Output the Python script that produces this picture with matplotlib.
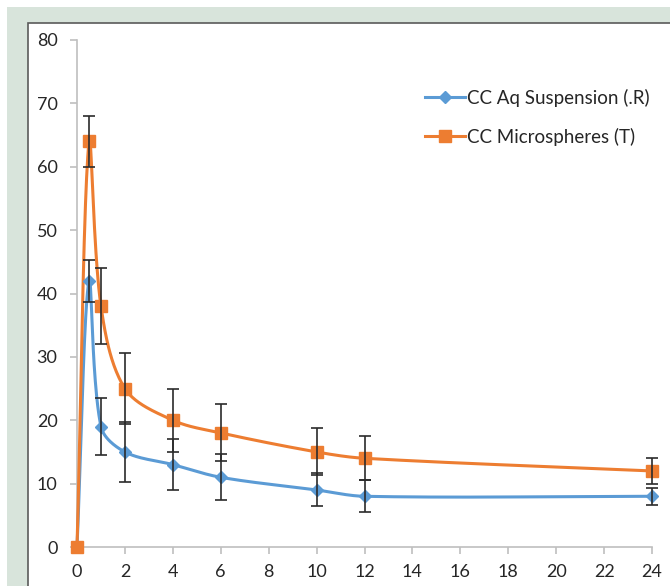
import numpy as np
import matplotlib
matplotlib.use("Agg")
import matplotlib.pyplot as plt
from matplotlib.patches import Rectangle

plt.rcParams['font.family'] = ['Lato', 'DejaVu Sans']

# time points (h) and mean values with SD
hours = [0, 0.5, 1, 2, 4, 6, 10, 12, 24]
aq_mean = [0, 42, 19, 15, 13, 11, 9, 8, 8]
aq_sd = [0, 3.3, 4.5, 4.8, 4.0, 3.6, 2.6, 2.5, 1.3]
ms_mean = [0, 64, 38, 25, 20, 18, 15, 14, 12]
ms_sd = [0, 4.0, 6.0, 5.6, 5.0, 4.5, 3.7, 3.5, 2.0]

labels = ["CC Aq Suspension (.R)", "CC Microspheres (T)"]
blue = "#5b9bd5"
orange = "#ed7d31"

W, H = 670, 586


def smooth_curve(xs, ys, sx, sy, n=40):
    # cubic bezier through the points, tangents scaled by chord length
    P = np.column_stack([np.asarray(xs, float) * sx, np.asarray(ys, float) * sy])
    m = len(P)
    tang = np.zeros_like(P)
    for i in range(m):
        a = P[i - 1] if i > 0 else P[i]
        b = P[i + 1] if i < m - 1 else P[i]
        d = np.linalg.norm(P[i] - a) + np.linalg.norm(b - P[i])
        tang[i] = (b - a) / d if d > 0 else 0
    out = []
    for i in range(m - 1):
        p1, p2 = P[i], P[i + 1]
        L = np.linalg.norm(p2 - p1)
        c1 = p1 + tang[i] * L / 3.0
        c2 = p2 - tang[i + 1] * L / 3.0
        t = np.linspace(0, 1, n)[:, None]
        seg = ((1 - t) ** 3) * p1 + 3 * ((1 - t) ** 2) * t * c1 + 3 * (1 - t) * t ** 2 * c2 + t ** 3 * p2
        out.append(seg if i == 0 else seg[1:])
    out = np.vstack(out)
    return out[:, 0] / sx, out[:, 1] / sy


fig = plt.figure(figsize=(W / 100, H / 100), dpi=100)
fig.patch.set_facecolor("white")

# background panel and chart frame
fig.patches.append(Rectangle((7 / W, 0), 1, (H - 7) / H, transform=fig.transFigure,
                             facecolor="#d8e4db", edgecolor="none", zorder=-3))
fig.patches.append(Rectangle((28 / W, -0.1), 1, (H - 23) / H + 0.1, transform=fig.transFigure,
                             facecolor="white", edgecolor="#5a5a5a", linewidth=1.2, zorder=-2))

ax = fig.add_axes([77 / W, (H - 547) / H, (652 - 77) / W, (547 - 40) / H])
ax.set_facecolor("none")
ax.set_xlim(0, 24)
ax.set_ylim(0, 80)

# pixel scale used for the smoothing
sx = (652 - 77) / 24.0
sy = (547 - 40) / 80.0

for mean, sd, col, mk, ms, lab in [(aq_mean, aq_sd, blue, "D", 6, labels[0]),
                                   (ms_mean, ms_sd, orange, "s", 8, labels[1])]:
    cx, cy = smooth_curve(hours, mean, sx, sy)
    ax.plot(cx, cy, color=col, lw=2.2, zorder=3, clip_on=False)
    ax.plot(hours, mean, linestyle="none", marker=mk, ms=ms, color=col, zorder=4, clip_on=False)
    ax.plot([], [], color=col, lw=2.2, marker=mk, ms=ms, label=lab)
    has_err = [i for i, s in enumerate(sd) if s > 0]
    ax.errorbar([hours[i] for i in has_err], [mean[i] for i in has_err],
                yerr=[sd[i] for i in has_err], fmt="none", ecolor="#2b2b2b", elinewidth=1.2,
                capsize=4, capthick=1.2, zorder=5, clip_on=False)

ax.set_xticks(np.arange(0, 25, 2))
ax.set_yticks(np.arange(0, 81, 10))
for s in ["top", "right"]:
    ax.spines[s].set_visible(False)
for s in ["left", "bottom"]:
    ax.spines[s].set_color("#bfbfbf")
    ax.spines[s].set_linewidth(1.2)
ax.tick_params(axis="both", colors="#bfbfbf", labelcolor="#262626", length=5, width=1.2,
               labelsize=13, pad=7)
ax.tick_params(axis="y", pad=9)

ax.legend(loc="upper left", bbox_to_anchor=(408 / W, 1 - 72 / H), bbox_transform=fig.transFigure,
          frameon=False, fontsize=13.5, handlelength=2.15, handletextpad=0.12, labelspacing=1.1,
          labelcolor="#262626")

fig.savefig("out.png", dpi=100)
